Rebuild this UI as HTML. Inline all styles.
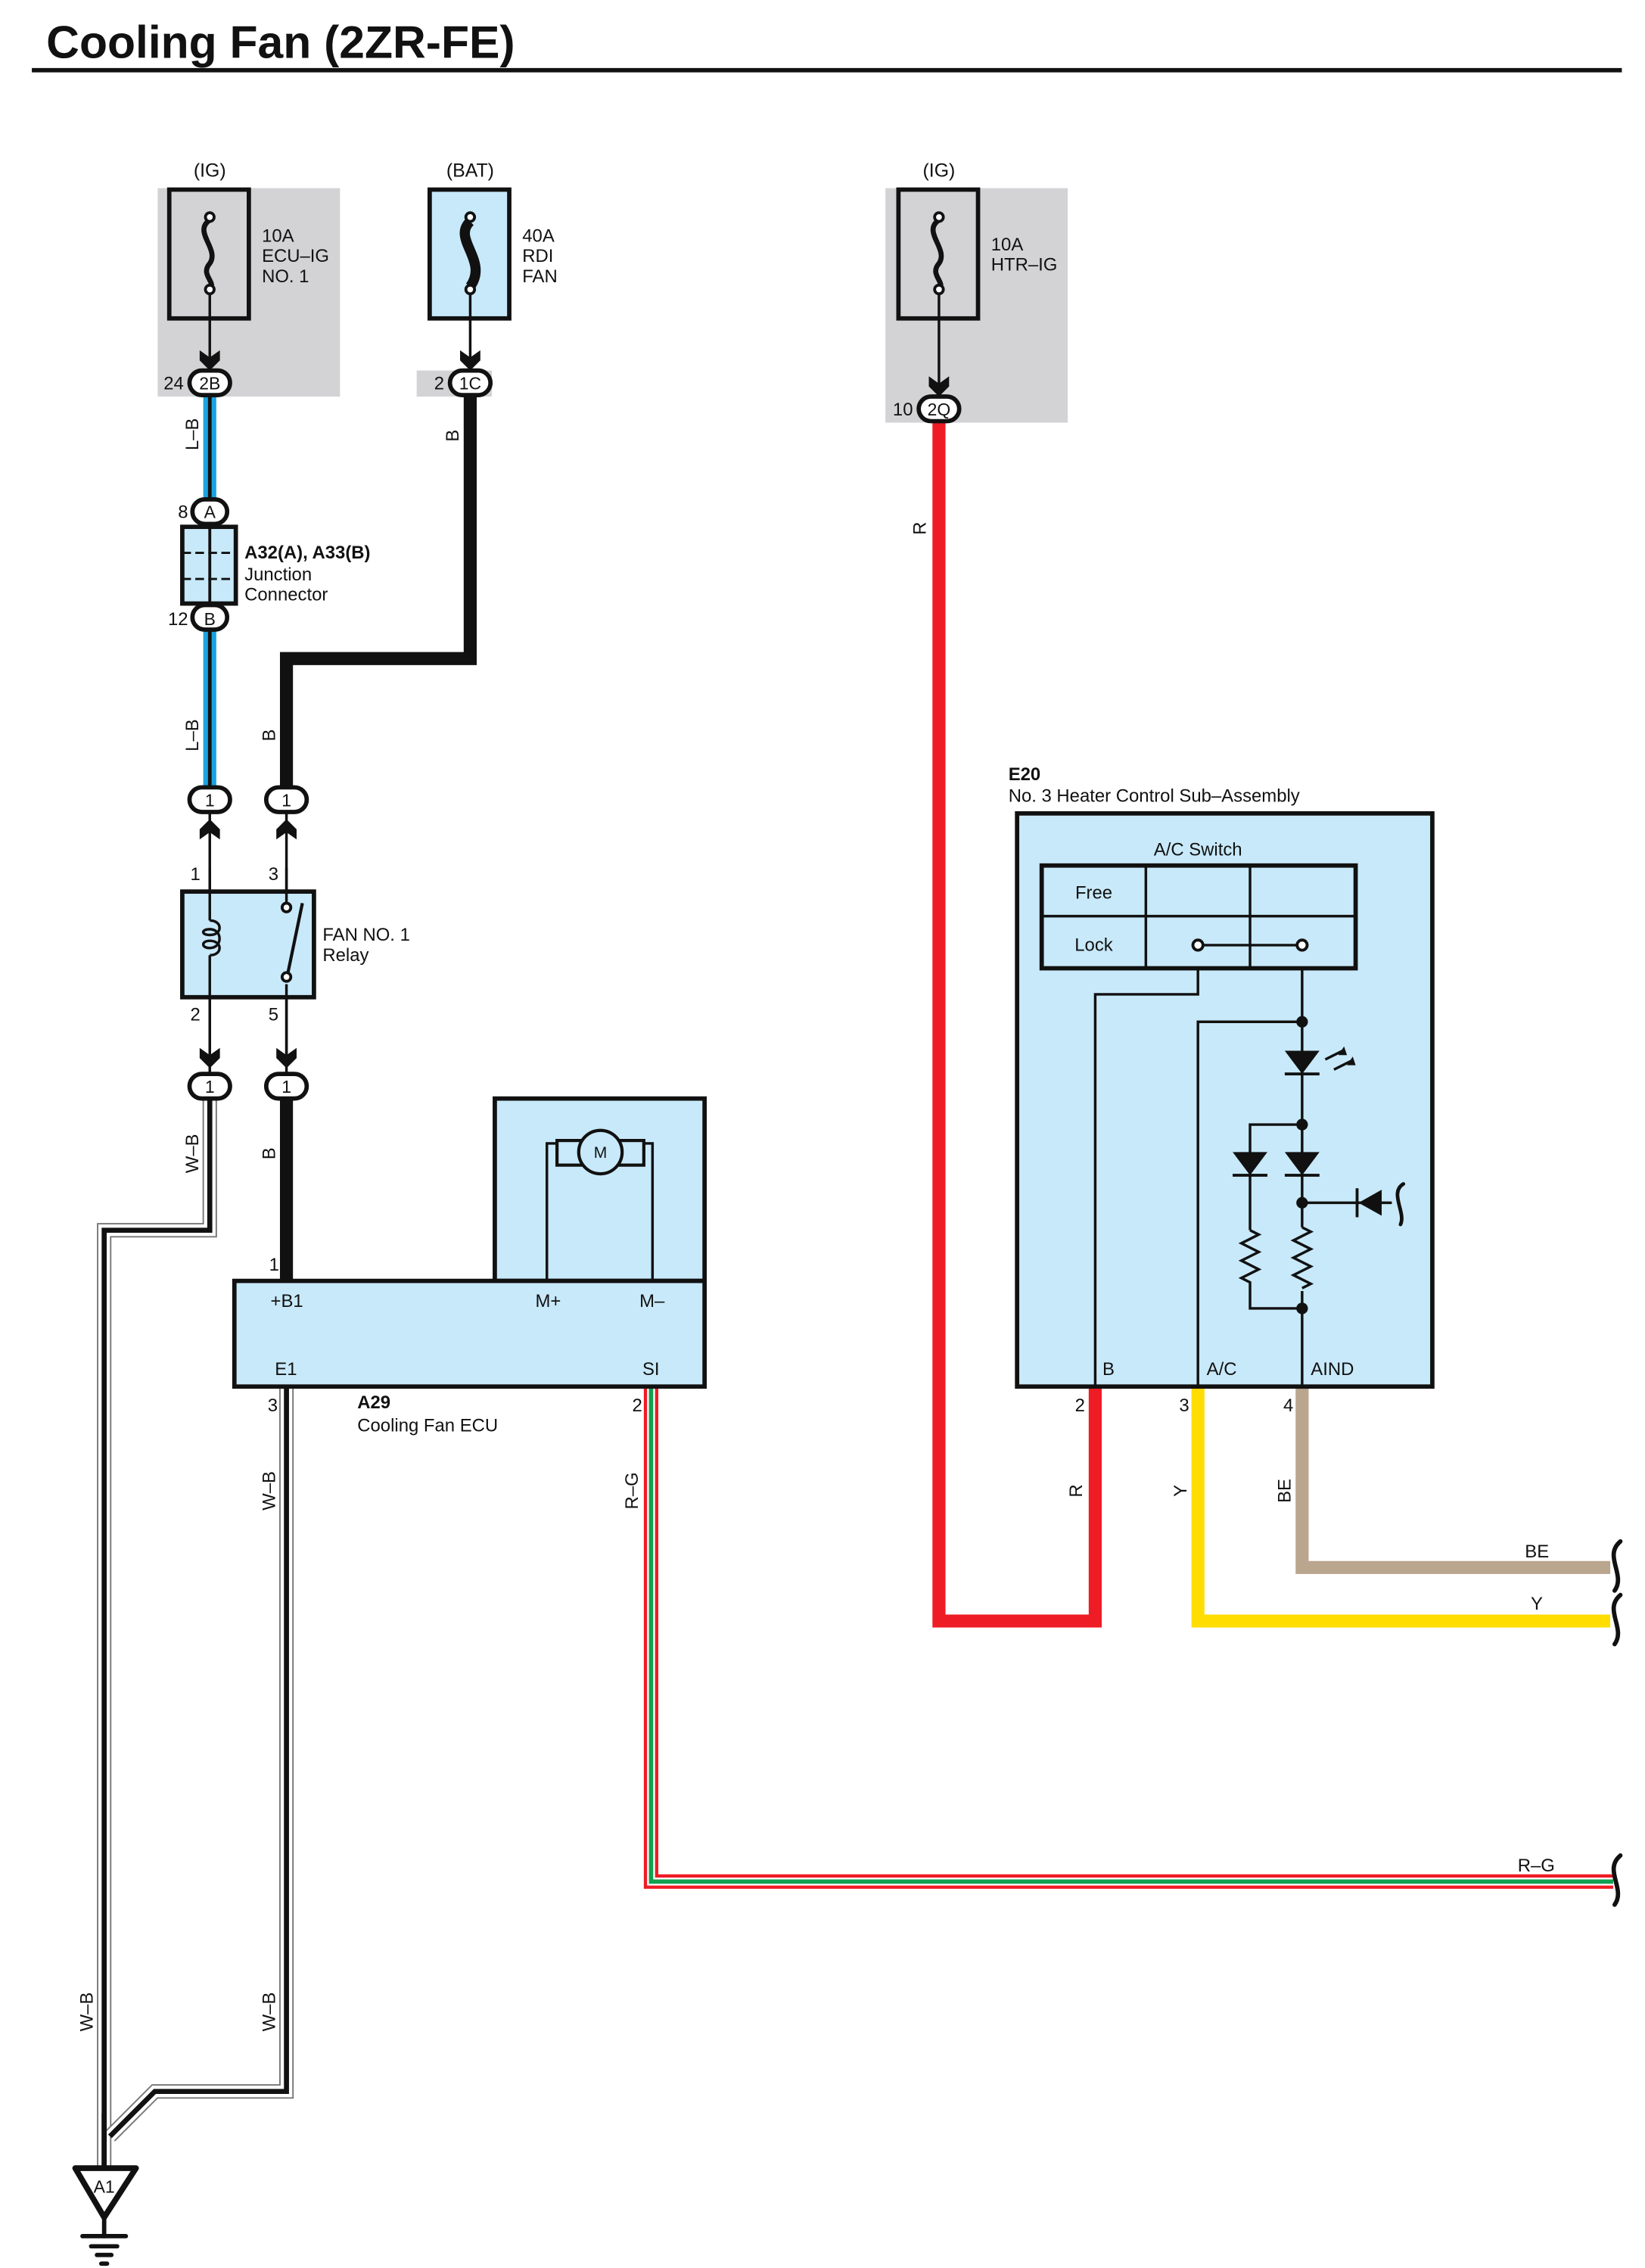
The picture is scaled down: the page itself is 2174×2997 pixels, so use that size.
<!DOCTYPE html>
<html><head><meta charset="utf-8"><style>
html,body{margin:0;padding:0;background:#fff}
svg{display:block}
text{font-family:"Liberation Sans",sans-serif;fill:#111}
</style></head><body>
<svg width="2174" height="2997" viewBox="0 0 1137 1567" preserveAspectRatio="none" xmlns="http://www.w3.org/2000/svg">
<defs>
<path id="arr" d="M-7,-9 L0,-4 L7,-9 L7,-2 L0,5 L-7,-2 Z" fill="#111"/>
<path id="arru" d="M-7,9 L0,4 L7,9 L7,2 L0,-5 L-7,2 Z" fill="#111"/>
</defs>
<text x="32" y="40" font-size="31.7" font-weight="bold">Cooling Fan (2ZR-FE)</text>
<rect x="22" y="47" width="1099" height="3" fill="#111"/>

<rect x="109" y="130" width="126" height="144" fill="#d3d3d5"/>
<rect x="288" y="256" width="52" height="18" fill="#d3d3d5"/>
<rect x="612" y="130" width="126" height="162" fill="#d3d3d5"/>

<g>
<line x1="145" y1="274" x2="145" y2="346" stroke="#1aa3e0" stroke-width="9"/>
<line x1="145" y1="274" x2="145" y2="346" stroke="#111" stroke-width="2.5"/>
<line x1="145" y1="436" x2="145" y2="543" stroke="#1aa3e0" stroke-width="9"/>
<line x1="145" y1="436" x2="145" y2="543" stroke="#111" stroke-width="2.5"/>
</g>
<path d="M325,274 V455 H198 V545" fill="none" stroke="#111" stroke-width="9"/>
<path d="M198,760 V885" fill="none" stroke="#111" stroke-width="9"/>
<g fill="none">
<path d="M145,760 V850 H72 V1497" stroke="#777" stroke-width="10"/>
<path d="M145,760 V850 H72 V1497" stroke="#fff" stroke-width="8"/>
<path d="M145,760 V850 H72 V1497" stroke="#111" stroke-width="3.5"/>
<path d="M198,958 V1445 H107 L76,1476" stroke="#777" stroke-width="10"/>
<path d="M198,958 V1445 H107 L76,1476" stroke="#fff" stroke-width="8"/>
<path d="M198,958 V1445 H107 L76,1476" stroke="#111" stroke-width="3.5"/>
<line x1="72" y1="1460" x2="72" y2="1497" stroke="#111" stroke-width="3.5"/>
</g>
<g fill="none">
<path d="M450,958 V1300 H1115" stroke="#ee1c25" stroke-width="10"/>
<path d="M450,958 V1300 H1115" stroke="#fff" stroke-width="5.5"/>
<path d="M450,958 V1300 H1115" stroke="#10a050" stroke-width="3"/>
</g>
<path d="M649,292 V1120 H757 V958" fill="none" stroke="#ee1c25" stroke-width="9"/>
<path d="M828,958 V1120 H1113" fill="none" stroke="#ffdd00" stroke-width="9"/>
<path d="M900,958 V1083 H1113" fill="none" stroke="#baa58f" stroke-width="9"/>
<g fill="none" stroke="#111" stroke-width="3" stroke-linecap="round">
<path d="M1120,1065 C1108,1075 1124,1088 1116,1099"/>
<path d="M1120,1102 C1108,1112 1124,1125 1116,1136"/>
<path d="M1120,1282 C1108,1292 1124,1305 1116,1316"/>
</g>

<g stroke="#111" stroke-width="3">
<rect x="117" y="131" width="55" height="89" fill="#d3d3d5"/>
<rect x="297" y="131" width="55" height="89" fill="#c8e9f9"/>
<rect x="621" y="131" width="55" height="89" fill="#d3d3d5"/>
</g>
<g fill="none" stroke="#111">
<path d="M145,152 C133,160 152,172 145,182 C138,190 150,195 145,200" stroke-width="3.5"/>
<path d="M649,152 C637,160 656,172 649,182 C642,190 654,195 649,200" stroke-width="3.5"/>
<path d="M325,153 C312,165 338,180 325,198" stroke-width="7"/>
<line x1="145" y1="200" x2="145" y2="248" stroke-width="1.8"/>
<line x1="325" y1="200" x2="325" y2="248" stroke-width="1.8"/>
<line x1="649" y1="200" x2="649" y2="266" stroke-width="1.8"/>
</g>
<g fill="#fff" stroke="#111" stroke-width="2">
<circle cx="145" cy="150" r="3"/><circle cx="145" cy="200" r="3"/>
<circle cx="325" cy="150" r="3"/><circle cx="325" cy="200" r="3"/>
<circle cx="649" cy="150" r="3"/><circle cx="649" cy="200" r="3"/>
</g>
<text x="145" y="122" font-size="13" text-anchor="middle">(IG)</text>
<text x="325" y="122" font-size="13" text-anchor="middle">(BAT)</text>
<text x="649" y="122" font-size="13" text-anchor="middle">(IG)</text>
<text font-size="12.5"><tspan x="181" y="167">10A</tspan><tspan x="181" y="181">ECU–IG</tspan><tspan x="181" y="195">NO. 1</tspan></text>
<text font-size="12.5"><tspan x="361" y="167">40A</tspan><tspan x="361" y="181">RDI</tspan><tspan x="361" y="195">FAN</tspan></text>
<text font-size="12.5"><tspan x="685" y="173">10A</tspan><tspan x="685" y="187">HTR–IG</tspan></text>

<use href="#arr" x="145" y="251"/>
<use href="#arr" x="325" y="251"/>
<use href="#arr" x="649" y="269"/>

<g fill="#fff" stroke="#111" stroke-width="3">
<rect x="131" y="256" width="28" height="17" rx="8.5"/>
<rect x="311" y="256" width="28" height="17" rx="8.5"/>
<rect x="635" y="274" width="28" height="17" rx="8.5"/>
<rect x="133" y="345" width="24" height="17" rx="8.5"/>
<rect x="133" y="418" width="24" height="17" rx="8.5"/>
<rect x="131" y="544" width="28" height="17" rx="8.5"/>
<rect x="184" y="544" width="28" height="17" rx="8.5"/>
<rect x="131" y="742" width="28" height="17" rx="8.5"/>
<rect x="184" y="742" width="28" height="17" rx="8.5"/>
</g>
<g font-size="12" text-anchor="middle">
<text x="145" y="269">2B</text><text x="325" y="269">1C</text><text x="649" y="287">2Q</text>
<text x="145" y="358">A</text><text x="145" y="432">B</text>
<text x="145" y="557">1</text><text x="198" y="557">1</text>
<text x="145" y="755">1</text><text x="198" y="755">1</text>
</g>
<g font-size="12.5" text-anchor="end">
<text x="127" y="269">24</text><text x="307" y="269">2</text><text x="631" y="287">10</text>
<text x="130" y="358">8</text><text x="130" y="432">12</text>
</g>

<rect x="126" y="364" width="37" height="53" fill="#c8e9f9" stroke="#111" stroke-width="3"/>
<line x1="145" y1="362" x2="145" y2="419" stroke="#111" stroke-width="2"/>
<g stroke="#111" stroke-width="1.5" stroke-dasharray="6,3"><line x1="126" y1="382" x2="163" y2="382"/><line x1="126" y1="400" x2="163" y2="400"/></g>
<text x="169" y="386" font-size="12.5" font-weight="bold">A32(A), A33(B)</text>
<text font-size="12.5"><tspan x="169" y="401">Junction</tspan><tspan x="169" y="415">Connector</tspan></text>

<g stroke="#111" stroke-width="1.8" fill="none">
<line x1="145" y1="562" x2="145" y2="742"/>
<line x1="198" y1="562" x2="198" y2="742"/>
</g>
<use href="#arru" x="145" y="571"/>
<use href="#arru" x="198" y="571"/>
<rect x="126" y="616" width="91" height="73" fill="#c8e9f9" stroke="#111" stroke-width="3"/>
<g stroke="#111" stroke-width="1.8" fill="none">
<line x1="145" y1="600" x2="145" y2="636"/>
<path d="M145,636 C154,636 154,646 145,646 C139,646 139,642 145,642 C154,642 154,655 145,655 C139,655 139,650 145,650 C154,650 154,660 145,660"/>
<line x1="145" y1="660" x2="145" y2="728"/>
<line x1="198" y1="600" x2="198" y2="624"/>
<line x1="198" y1="680" x2="198" y2="728"/>
<line x1="198" y1="677" x2="209" y2="624" stroke-width="2.2"/>
</g>
<g fill="#fff" stroke="#111" stroke-width="2"><circle cx="198" cy="627" r="3"/><circle cx="198" cy="675" r="3"/></g>
<use href="#arr" x="145" y="733"/>
<use href="#arr" x="198" y="733"/>
<g font-size="12.5" text-anchor="middle">
<text x="135" y="608">1</text><text x="189" y="608">3</text>
<text x="135" y="705">2</text><text x="189" y="705">5</text>
</g>
<text font-size="12.5"><tspan x="223" y="650">FAN NO. 1</tspan><tspan x="223" y="664">Relay</tspan></text>

<rect x="342" y="759" width="145" height="126" fill="#c8e9f9" stroke="#111" stroke-width="3"/>
<rect x="162" y="885" width="325" height="73" fill="#c8e9f9" stroke="#111" stroke-width="3"/>
<g stroke="#111" stroke-width="1.8" fill="none">
<path d="M378,885 V790 H392"/><path d="M451,885 V790 H437"/>
</g>
<g stroke="#111" stroke-width="2.2" fill="#c8e9f9">
<rect x="385" y="788" width="60" height="17"/>
<circle cx="415" cy="796" r="15"/>
</g>
<text x="415" y="800" font-size="11" text-anchor="middle">M</text>
<g font-size="12.5">
<text x="187" y="903">+B1</text><text x="370" y="903">M+</text><text x="442" y="903">M–</text>
<text x="190" y="950">E1</text><text x="444" y="950">SI</text>
<text x="186" y="878">1</text><text x="185" y="975">3</text><text x="437" y="975">2</text>
</g>
<text x="247" y="973" font-size="12.5" font-weight="bold">A29</text>
<text x="247" y="989" font-size="12.5">Cooling Fan ECU</text>

<path d="M52,1498 H94 L72,1532 Z" fill="#fff" stroke="#111" stroke-width="4" stroke-linejoin="round"/>
<text x="72" y="1515" font-size="12" text-anchor="middle">A1</text>
<g stroke="#111" stroke-width="3" stroke-linecap="round">
<line x1="72" y1="1532" x2="72" y2="1545"/>
<line x1="57" y1="1545" x2="87" y2="1545"/>
<line x1="63" y1="1552" x2="81" y2="1552"/>
<line x1="67" y1="1558" x2="77" y2="1558"/>
<line x1="70" y1="1564" x2="74" y2="1564"/>
</g>

<text x="697" y="539" font-size="12.5" font-weight="bold">E20</text>
<text x="697" y="554" font-size="12.5">No. 3 Heater Control Sub–Assembly</text>
<rect x="703" y="562" width="287" height="396" fill="#c8e9f9" stroke="#111" stroke-width="3"/>
<text x="828" y="591" font-size="12.5" text-anchor="middle">A/C Switch</text>
<rect x="720" y="598" width="217" height="71" fill="none" stroke="#111" stroke-width="3"/>
<g stroke="#111" stroke-width="1.8" fill="none">
<line x1="792" y1="598" x2="792" y2="669"/><line x1="864" y1="598" x2="864" y2="669"/>
<line x1="720" y1="633" x2="937" y2="633"/>
<line x1="828" y1="653" x2="900" y2="653"/>
<path d="M828,669 V687 H757 V958"/>
<path d="M900,669 V958"/>
<path d="M900,706 H828 V958"/>
<path d="M900,777 H864 V850"/>
<path d="M900,831 H940"/>
<path d="M864,850 l6,3 l-12,6 l12,6 l-12,6 l12,6 l-12,6 l6,3 V904 H900"/>
</g>
<rect x="893" y="848" width="14" height="44" fill="#c8e9f9"/>
<path d="M900,848 l6,3 l-12,6 l12,6 l-12,6 l12,6 l-12,6 l12,6 l-6,3" fill="none" stroke="#111" stroke-width="1.8"/>
<g fill="#111">
<circle cx="828" cy="653" r="3.5" fill="#fff" stroke="#111" stroke-width="2"/>
<circle cx="900" cy="653" r="3.5" fill="#fff" stroke="#111" stroke-width="2"/>
<circle cx="900" cy="706" r="4"/><circle cx="900" cy="777" r="4"/>
<circle cx="900" cy="831" r="4"/><circle cx="900" cy="904" r="4"/>
<path d="M888,726 H912 L900,742 Z"/><rect x="888" y="741" width="24" height="2"/>
<path d="M852,796 H876 L864,812 Z"/><rect x="852" y="811" width="24" height="2"/>
<path d="M888,796 H912 L900,812 Z"/><rect x="888" y="811" width="24" height="2"/>
<path d="M955,822 V840 L939,831 Z"/><rect x="937" y="821" width="2" height="20"/>
</g>
<g stroke="#111" stroke-width="1.8" fill="none">
<path d="M916,732 L928,726 M922,739 L934,733"/>
</g>
<g fill="#111"><path d="M929,723 L931,729 L925,729 Z"/><path d="M935,730 L937,736 L931,736 Z"/></g>
<path d="M970,818 C960,824 972,838 968,846" fill="none" stroke="#111" stroke-width="2.5" stroke-linecap="round"/>
<path d="M940,831 H962" stroke="#111" stroke-width="1.8"/>
<text x="756" y="621" font-size="12.5" text-anchor="middle">Free</text>
<text x="756" y="657" font-size="12.5" text-anchor="middle">Lock</text>
<g font-size="12.5">
<text x="762" y="950">B</text><text x="834" y="950">A/C</text><text x="906" y="950">AIND</text>
<text x="743" y="975">2</text><text x="815" y="975">3</text><text x="887" y="975">4</text>
<text x="1054" y="1076">BE</text><text x="1058" y="1112">Y</text><text x="1049" y="1293">R–G</text>
</g>

<g font-size="12.5" text-anchor="middle">
<text transform="translate(137,300) rotate(-90)">L–B</text>
<text transform="translate(137,508) rotate(-90)">L–B</text>
<text transform="translate(317,301) rotate(-90)">B</text>
<text transform="translate(190,508) rotate(-90)">B</text>
<text transform="translate(137,797) rotate(-90)">W–B</text>
<text transform="translate(190,797) rotate(-90)">B</text>
<text transform="translate(190,1030) rotate(-90)">W–B</text>
<text transform="translate(441,1030) rotate(-90)">R–G</text>
<text transform="translate(64,1390) rotate(-90)">W–B</text>
<text transform="translate(190,1390) rotate(-90)">W–B</text>
<text transform="translate(640,365) rotate(-90)">R</text>
<text transform="translate(748,1030) rotate(-90)">R</text>
<text transform="translate(820,1030) rotate(-90)">Y</text>
<text transform="translate(892,1030) rotate(-90)">BE</text>
</g>
</svg>
</body></html>
